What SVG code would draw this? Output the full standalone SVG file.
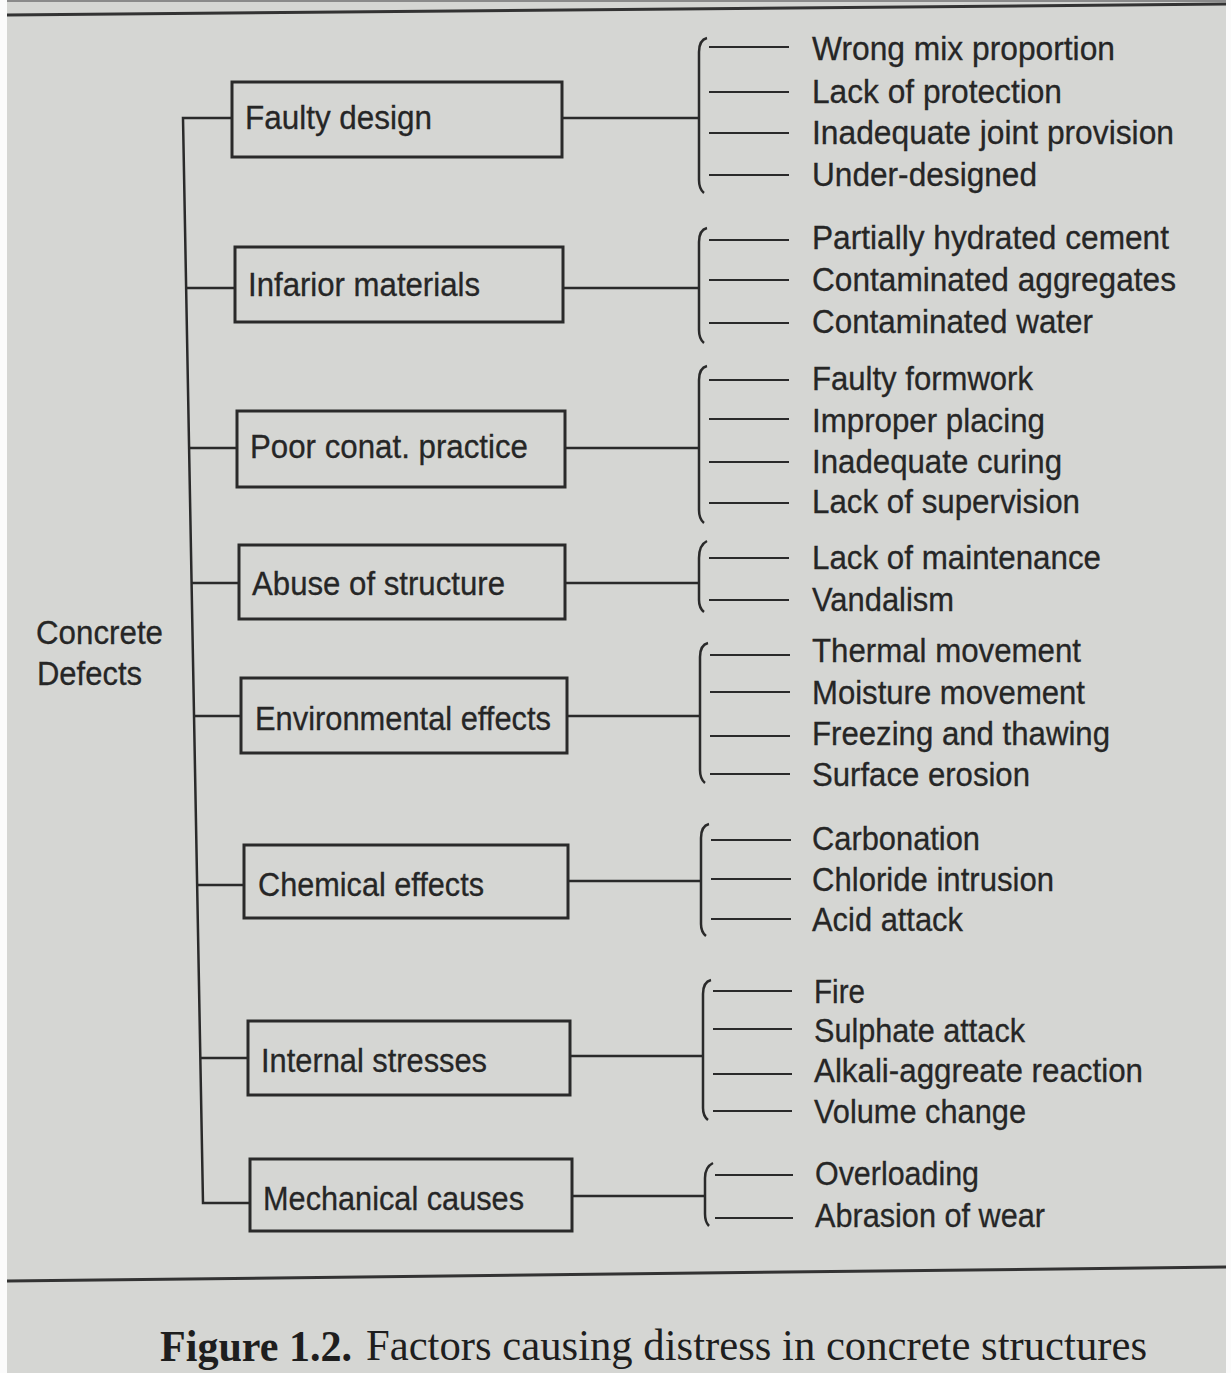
<svg xmlns="http://www.w3.org/2000/svg" width="1231" height="1373" viewBox="0 0 1231 1373">
<style>
.t{font-family:"Liberation Sans",Arial,sans-serif;font-size:33px;fill:#262626;stroke:#262626;stroke-width:0.3}
.box{fill:none;stroke:#2a2a2a;stroke-width:3}
.ln{fill:none;stroke:#2a2a2a;stroke-width:2.5}
.ld{fill:none;stroke:#2a2a2a;stroke-width:2}
.cap{font-family:"Liberation Serif","Times New Roman",serif;font-size:44px;fill:#1e1e1e}
</style>
<rect x="0" y="0" width="1231" height="1373" fill="#d5d6d3"/>
<rect x="0" y="0" width="7" height="1373" fill="#fbfbfb"/>
<rect x="1226" y="0" width="5" height="1373" fill="#fbfbfb"/>
<line x1="7" y1="1" x2="1226" y2="1" stroke="#8a8a8a" stroke-width="2"/>
<line x1="7" y1="15" x2="1226" y2="4" stroke="#333" stroke-width="3"/>
<line x1="7" y1="1281" x2="1226" y2="1267" stroke="#333" stroke-width="3"/>

<g id="root">
<text class="t" x="36" y="644" textLength="127" lengthAdjust="spacingAndGlyphs">Concrete</text>
<text class="t" x="37" y="685" textLength="105" lengthAdjust="spacingAndGlyphs">Defects</text>
</g>

<g id="connectors">
<path class="ln" d="M232 118 H183 L203 1203 H250"/>
<line class="ln" x1="186" y1="288" x2="235" y2="288"/>
<line class="ln" x1="189" y1="448" x2="237" y2="448"/>
<line class="ln" x1="192" y1="583" x2="239" y2="583"/>
<line class="ln" x1="194" y1="716" x2="241" y2="716"/>
<line class="ln" x1="197" y1="885" x2="244" y2="885"/>
<line class="ln" x1="200" y1="1058" x2="248" y2="1058"/>
<line class="ln" x1="562" y1="118" x2="699" y2="118"/>
<line class="ln" x1="563" y1="288" x2="699" y2="288"/>
<line class="ln" x1="565" y1="448" x2="699" y2="448"/>
<line class="ln" x1="565" y1="583" x2="699" y2="583"/>
<line class="ln" x1="567" y1="716" x2="700" y2="716"/>
<line class="ln" x1="568" y1="881" x2="701" y2="881"/>
<line class="ln" x1="570" y1="1056" x2="703" y2="1056"/>
<line class="ln" x1="572" y1="1196" x2="705" y2="1196"/>
<path class="ln" d="M707 38 Q699 40 699 52 L699 180 Q699 189 704 193"/>
<path class="ln" d="M707 228 Q699 230 699 242 L699 330 Q699 339 704 343"/>
<path class="ln" d="M707 366 Q699 368 699 380 L699 510 Q699 519 704 523"/>
<path class="ln" d="M707 541 Q699 545 699 558 L699 600 Q699 608 704 612"/>
<path class="ln" d="M708 643 Q700 645 700 657 L700 770 Q700 779 705 783"/>
<path class="ln" d="M709 824 Q701 826 701 838 L701 924 Q701 932 706 936"/>
<path class="ln" d="M711 980 Q703 982 703 994 L703 1108 Q703 1116 708 1120"/>
<path class="ln" d="M713 1163 Q705 1167 705 1178 L705 1214 Q705 1222 709 1226"/>
<g class="ld">
<line x1="709" y1="47" x2="789" y2="47"/>
<line x1="709" y1="92" x2="789" y2="92"/>
<line x1="709" y1="133" x2="789" y2="133"/>
<line x1="709" y1="175" x2="789" y2="175"/>
<line x1="709" y1="240" x2="789" y2="240"/>
<line x1="709" y1="280" x2="789" y2="280"/>
<line x1="709" y1="323" x2="789" y2="323"/>
<line x1="709" y1="380" x2="789" y2="380"/>
<line x1="709" y1="419" x2="789" y2="419"/>
<line x1="709" y1="462" x2="789" y2="462"/>
<line x1="709" y1="503" x2="789" y2="503"/>
<line x1="709" y1="558" x2="789" y2="558"/>
<line x1="709" y1="600" x2="789" y2="600"/>
<line x1="710" y1="655" x2="790" y2="655"/>
<line x1="710" y1="692" x2="790" y2="692"/>
<line x1="710" y1="736" x2="790" y2="736"/>
<line x1="710" y1="774" x2="790" y2="774"/>
<line x1="711" y1="840" x2="791" y2="840"/>
<line x1="711" y1="879" x2="791" y2="879"/>
<line x1="711" y1="919" x2="791" y2="919"/>
<line x1="713" y1="991" x2="792" y2="991"/>
<line x1="713" y1="1029" x2="792" y2="1029"/>
<line x1="713" y1="1074" x2="792" y2="1074"/>
<line x1="713" y1="1111" x2="792" y2="1111"/>
<line x1="715" y1="1175" x2="793" y2="1175"/>
<line x1="715" y1="1218" x2="793" y2="1218"/>
</g>
</g>

<g id="n-faulty-design"><rect class="box" x="232" y="82" width="330" height="75"/><text class="t" x="245" y="129" textLength="187" lengthAdjust="spacingAndGlyphs">Faulty design</text></g>
<g id="n-infarior-materials"><rect class="box" x="235" y="247" width="328" height="75"/><text class="t" x="248" y="296" textLength="232" lengthAdjust="spacingAndGlyphs">Infarior materials</text></g>
<g id="n-poor-practice"><rect class="box" x="237" y="411" width="328" height="76"/><text class="t" x="250" y="458" textLength="278" lengthAdjust="spacingAndGlyphs">Poor conat. practice</text></g>
<g id="n-abuse"><rect class="box" x="239" y="545" width="326" height="74"/><text class="t" x="252" y="595" textLength="253" lengthAdjust="spacingAndGlyphs">Abuse of structure</text></g>
<g id="n-environmental"><rect class="box" x="241" y="678" width="326" height="75"/><text class="t" x="255" y="730" textLength="296" lengthAdjust="spacingAndGlyphs">Environmental effects</text></g>
<g id="n-chemical"><rect class="box" x="244" y="845" width="324" height="73"/><text class="t" x="258" y="896" textLength="226" lengthAdjust="spacingAndGlyphs">Chemical effects</text></g>
<g id="n-internal"><rect class="box" x="248" y="1021" width="322" height="74"/><text class="t" x="261" y="1072" textLength="226" lengthAdjust="spacingAndGlyphs">Internal stresses</text></g>
<g id="n-mechanical"><rect class="box" x="250" y="1159" width="322" height="72"/><text class="t" x="263" y="1210" textLength="261" lengthAdjust="spacingAndGlyphs">Mechanical causes</text></g>

<g id="items">
<text class="t" x="812" y="60" textLength="303" lengthAdjust="spacingAndGlyphs">Wrong mix proportion</text>
<text class="t" x="812" y="103" textLength="250" lengthAdjust="spacingAndGlyphs">Lack of protection</text>
<text class="t" x="812" y="144" textLength="362" lengthAdjust="spacingAndGlyphs">Inadequate joint provision</text>
<text class="t" x="812" y="186" textLength="225" lengthAdjust="spacingAndGlyphs">Under-designed</text>
<text class="t" x="812" y="249" textLength="357" lengthAdjust="spacingAndGlyphs">Partially hydrated cement</text>
<text class="t" x="812" y="291" textLength="364" lengthAdjust="spacingAndGlyphs">Contaminated aggregates</text>
<text class="t" x="812" y="333" textLength="281" lengthAdjust="spacingAndGlyphs">Contaminated water</text>
<text class="t" x="812" y="390" textLength="221" lengthAdjust="spacingAndGlyphs">Faulty formwork</text>
<text class="t" x="812" y="432" textLength="233" lengthAdjust="spacingAndGlyphs">Improper placing</text>
<text class="t" x="812" y="473" textLength="250" lengthAdjust="spacingAndGlyphs">Inadequate curing</text>
<text class="t" x="812" y="513" textLength="268" lengthAdjust="spacingAndGlyphs">Lack of supervision</text>
<text class="t" x="812" y="569" textLength="289" lengthAdjust="spacingAndGlyphs">Lack of maintenance</text>
<text class="t" x="812" y="611" textLength="142" lengthAdjust="spacingAndGlyphs">Vandalism</text>
<text class="t" x="812" y="662" textLength="269" lengthAdjust="spacingAndGlyphs">Thermal movement</text>
<text class="t" x="812" y="704" textLength="273" lengthAdjust="spacingAndGlyphs">Moisture movement</text>
<text class="t" x="812" y="745" textLength="298" lengthAdjust="spacingAndGlyphs">Freezing and thawing</text>
<text class="t" x="812" y="786" textLength="218" lengthAdjust="spacingAndGlyphs">Surface erosion</text>
<text class="t" x="812" y="850" textLength="168" lengthAdjust="spacingAndGlyphs">Carbonation</text>
<text class="t" x="812" y="891" textLength="242" lengthAdjust="spacingAndGlyphs">Chloride intrusion</text>
<text class="t" x="812" y="931" textLength="151" lengthAdjust="spacingAndGlyphs">Acid attack</text>
<text class="t" x="814" y="1003" textLength="51" lengthAdjust="spacingAndGlyphs">Fire</text>
<text class="t" x="814" y="1042" textLength="211" lengthAdjust="spacingAndGlyphs">Sulphate attack</text>
<text class="t" x="814" y="1082" textLength="329" lengthAdjust="spacingAndGlyphs">Alkali-aggreate reaction</text>
<text class="t" x="814" y="1123" textLength="212" lengthAdjust="spacingAndGlyphs">Volume change</text>
<text class="t" x="815" y="1185" textLength="164" lengthAdjust="spacingAndGlyphs">Overloading</text>
<text class="t" x="815" y="1227" textLength="230" lengthAdjust="spacingAndGlyphs">Abrasion of wear</text>
</g>

<text class="cap" x="160" y="1361" font-weight="bold" textLength="192" lengthAdjust="spacingAndGlyphs">Figure 1.2.</text>
<text class="cap" x="366" y="1360" textLength="781" lengthAdjust="spacingAndGlyphs">Factors causing distress in concrete structures</text>
</svg>
